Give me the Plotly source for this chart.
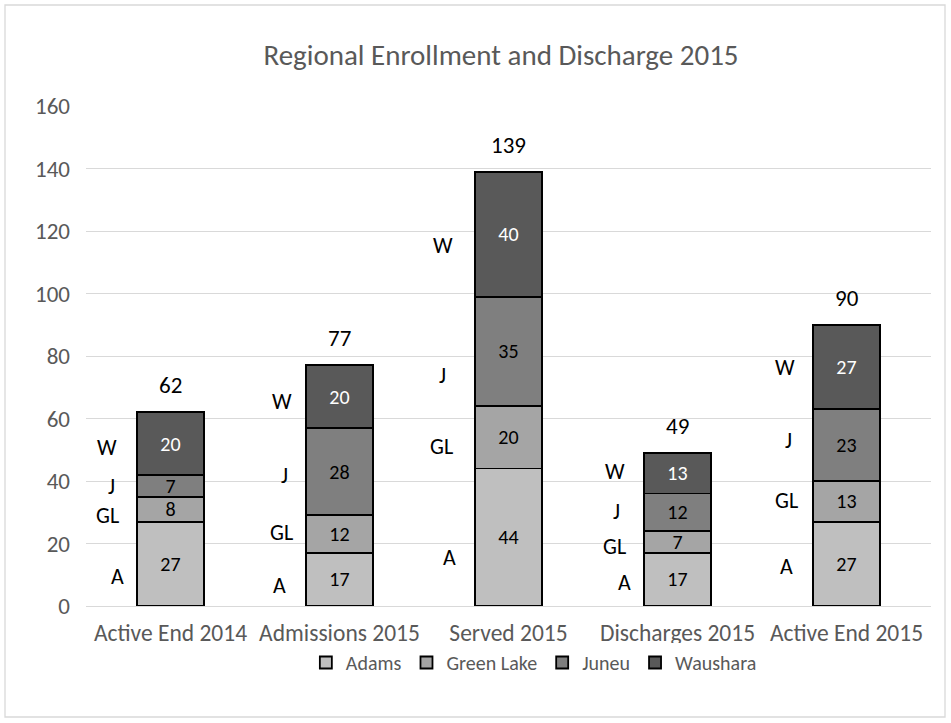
import plotly.graph_objects as go

categories = ["Active End 2014", "Admissions 2015", "Served 2015", "Discharges 2015", "Active End 2015"]
adams = [27, 17, 44, 17, 27]
green_lake = [8, 12, 20, 7, 13]
juneu = [7, 28, 35, 12, 23]
waushara = [20, 20, 40, 13, 27]

series_names = ["Adams", "Green Lake", "Juneu", "Waushara"]
series_colors = ["#BFBFBF", "#A5A5A5", "#7F7F7F", "#595959"]
label_colors = ["#000000", "#000000", "#000000", "#FFFFFF"]

# side letter labels (A, GL, J, W) per bar, anchored at these axis values
letters = ["A", "GL", "J", "W"]
letter_vals = [
    [9.6, 29.0, 38.4, 50.6],
    [6.7, 23.4, 41.9, 65.3],
    [15.4, 50.9, 73.9, 115.5],
    [7.4, 18.9, 30.1, 42.9],
    [12.5, 33.9, 53.1, 76.2],
]
letter_shift = [
    [-53, -63, -59, -64],
    [-60, -58, -55, -58],
    [-59, -67, -66, -66],
    [-53, -63, -61, -63],
    [-60, -60, -58, -62],
]

FONT = "Carlito, Calibri, Lato, sans-serif"

fig = go.Figure()
for name, vals, col, lc in zip(series_names, [adams, green_lake, juneu, waushara], series_colors, label_colors):
    fig.add_trace(go.Bar(
        name=name, x=categories, y=vals,
        marker=dict(color=col, line=dict(color="#000000", width=1.8)),
        text=vals, textposition="inside", insidetextanchor="middle", textangle=0,
        textfont=dict(family=FONT, size=20, color=lc),
        constraintext="none",
    ))

totals = [a + b + c + d for a, b, c, d in zip(adams, green_lake, juneu, waushara)]
annotations = []
for i, t in enumerate(totals):
    annotations.append(dict(x=i, y=t, xref="x", yref="y", text=str(t), showarrow=False,
                            yshift=27, font=dict(family=FONT, size=23, color="#000000")))
for i in range(len(categories)):
    for j, L in enumerate(letters):
        annotations.append(dict(x=i, y=letter_vals[i][j], xref="x", yref="y", text=L, showarrow=False,
                                xshift=letter_shift[i][j], font=dict(family=FONT, size=22, color="#000000")))

W, H = 951, 723
L_M, T_M, PW, PH = 86, 106, 845, 500
fig.update_layout(
    width=W, height=H,
    barmode="stack", bargap=0.6,
    paper_bgcolor="white", plot_bgcolor="white",
    margin=dict(l=L_M, r=W - L_M - PW, t=T_M, b=H - T_M - PH),
    title=dict(text="Regional Enrollment and Discharge 2015", x=501 / W, xanchor="center",
               y=1 - 55 / H, yanchor="middle", yref="container",
               font=dict(family=FONT, size=29, color="#595959")),
    font=dict(family=FONT, color="#595959"),
    xaxis=dict(showgrid=False, showline=True, linecolor="#D9D9D9", linewidth=1.3,
               tickfont=dict(size=23.5, color="#595959"), ticks="", ticklabelstandoff=6),
    yaxis=dict(range=[0, 160], dtick=20, showgrid=True, gridcolor="#D9D9D9", gridwidth=1.3,
               zeroline=False, showline=False, tickfont=dict(size=23, color="#595959"), ticks="",
               ticklabelstandoff=15),
    legend=dict(orientation="h", x=0.53, xanchor="center", y=-0.113, yanchor="middle",
                font=dict(size=20, color="#595959"), traceorder="normal"),
    annotations=annotations,
    shapes=[dict(type="rect", xref="paper", yref="paper",
                 x0=(5 - L_M) / PW, x1=(945 - L_M) / PW, y0=(606 - 717) / PH, y1=(606 - 5) / PH,
                 line=dict(color="#D9D9D9", width=1.3), fillcolor="rgba(0,0,0,0)", layer="below")],
)

fig.write_html("out.html", config={"displayModeBar": False},
               post_script="document.body.style.margin='0px';")
